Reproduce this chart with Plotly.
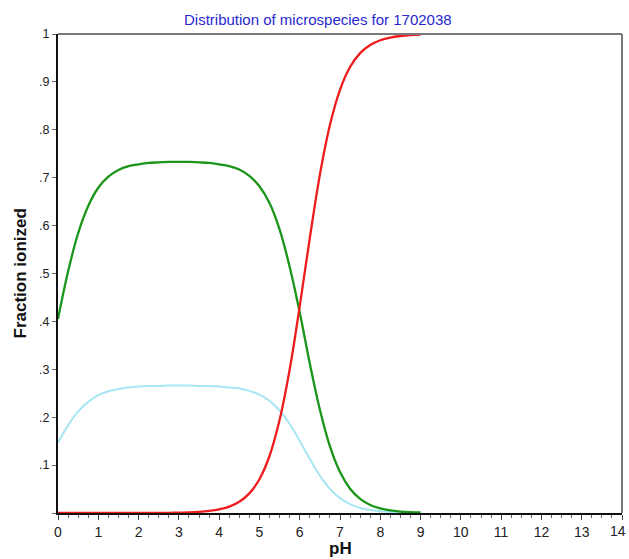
import plotly.graph_objects as go

ph = [0, 0.25, 0.5, 0.75, 1.0, 1.25, 1.5, 1.75, 2.0, 2.25, 2.5, 2.75, 3.0, 3.25, 3.5, 3.75,
      4.0, 4.25, 4.5, 4.75, 5.0, 5.25, 5.5, 5.75, 6.0, 6.25, 6.5, 6.75, 7.0, 7.25, 7.5, 7.75,
      8.0, 8.25, 8.5, 8.75, 9.0]

green = [0.405, 0.504, 0.584, 0.641, 0.679, 0.702, 0.716, 0.724, 0.728, 0.731, 0.732, 0.733,
         0.733, 0.733, 0.732, 0.731, 0.728, 0.724, 0.717, 0.704, 0.682, 0.647, 0.592, 0.514,
         0.419, 0.312, 0.216, 0.139, 0.0855, 0.0507, 0.0294, 0.0168, 0.0096, 0.0054, 0.0030,
         0.0017, 0.0010]

cyan = [0.147, 0.183, 0.212, 0.232, 0.246, 0.254, 0.259, 0.262, 0.264, 0.265, 0.265, 0.266,
        0.266, 0.266, 0.265, 0.265, 0.264, 0.262, 0.260, 0.255, 0.247, 0.234, 0.214, 0.186,
        0.151, 0.113, 0.078, 0.0505, 0.031, 0.0184, 0.0106, 0.0061, 0.0035, 0.0020, 0.0011,
        0.0006, 0.0004]

red = [0, 0, 0, 0, 0, 0, 0, 0, 0, 0, 0, 0.0004, 0.0008, 0.0013, 0.0024, 0.0043,
       0.0075, 0.0133, 0.0234, 0.041, 0.0705, 0.119, 0.194, 0.299, 0.4315, 0.574, 0.706, 0.810,
       0.8835, 0.931, 0.960, 0.977, 0.987, 0.9926, 0.9958, 0.9977, 0.9987]

y_tickvals = [0, 0.1, 0.2, 0.3, 0.4, 0.5, 0.6, 0.7, 0.8, 0.9, 1.0]
y_ticktext = ["", ".1", ".2", ".3", ".4", ".5", ".6", ".7", ".8", ".9", "1"]
x_tickvals = list(range(0, 15))
x_ticktext = [str(v) for v in x_tickvals]

title_text = "Distribution of microspecies for 1702038"
x_title = "pH"
y_title = "Fraction ionized"

fig = go.Figure()
fig.add_trace(go.Scatter(x=ph, y=cyan, mode="lines", line=dict(color="#a8e6f4", width=2),
                         line_shape="spline", showlegend=False))
fig.add_trace(go.Scatter(x=ph, y=green, mode="lines", line=dict(color="#1a951a", width=2.3),
                         line_shape="spline", showlegend=False))
fig.add_trace(go.Scatter(x=ph, y=red, mode="lines", line=dict(color="#ee1c1c", width=2.3),
                         line_shape="spline", showlegend=False))

W, H = 629, 559
ML, MR, MT, MB = 58, 7, 34, 46

# last tick label is drawn as an annotation so it stays inside the page edge
shown_ticktext = x_ticktext[:-1] + [""]

fig.update_layout(
    width=W, height=H,
    margin=dict(l=ML, r=MR, t=MT, b=MB, autoexpand=False),
    paper_bgcolor="white", plot_bgcolor="white",
    font=dict(family="Liberation Sans, Arial, sans-serif", color="#222"),
    xaxis=dict(range=[0, 14], tickvals=x_tickvals, ticktext=shown_ticktext,
               showgrid=False, zeroline=False,
               automargin=False, ticklabeloverflow="allow",
               showline=True, linecolor="#111", linewidth=2,
               ticks="outside", ticklen=5, tickwidth=1, tickcolor="#444",
               minor=dict(dtick=0.25, ticks="outside", ticklen=3, tickcolor="#666", tickwidth=1),
               tickfont=dict(size=14, color="#222")),
    yaxis=dict(range=[0, 1], tickvals=y_tickvals, ticktext=y_ticktext, showgrid=False,
               zeroline=False, automargin=False, ticklabeloverflow="allow",
               showline=True, linecolor="#111", linewidth=2,
               ticks="outside", ticklen=4, tickwidth=1, tickcolor="#666",
               tickfont=dict(size=12.5, color="#222")),
    annotations=[
        dict(text=title_text, xref="paper", yref="paper",
             x=(318 - ML) / (W - ML - MR), y=1, xanchor="center",
             yanchor="middle", yshift=15, showarrow=False,
             font=dict(size=15, color="#2828d0")),
        dict(text="<b>" + x_title + "</b>", xref="paper", yref="paper", x=0.5, y=0,
             xanchor="center", yanchor="middle", yshift=-35, showarrow=False,
             font=dict(size=17, color="#111")),
        dict(text="<b>" + y_title + "</b>", xref="paper", yref="paper", x=0, y=0.5,
             xanchor="center", yanchor="middle", xshift=-38, textangle=-90, showarrow=False,
             font=dict(size=17, color="#111")),
        dict(text=x_ticktext[-1], xref="x", yref="paper", x=x_tickvals[-1], y=0,
             xanchor="right", yanchor="top", xshift=6, yshift=-8, showarrow=False,
             font=dict(size=14, color="#222")),
    ],
    shapes=[
        dict(type="line", xref="paper", yref="paper", x0=0, x1=1, y0=1, y1=1,
             line=dict(color="#7a7a7a", width=2)),
        dict(type="line", xref="paper", yref="paper", x0=1, x1=1, y0=0, y1=1,
             line=dict(color="#7a7a7a", width=2)),
    ],
)

fig.write_html("out.html", config={"displayModeBar": False},
               post_script="document.body.style.margin='0';document.body.style.overflow='hidden';")
